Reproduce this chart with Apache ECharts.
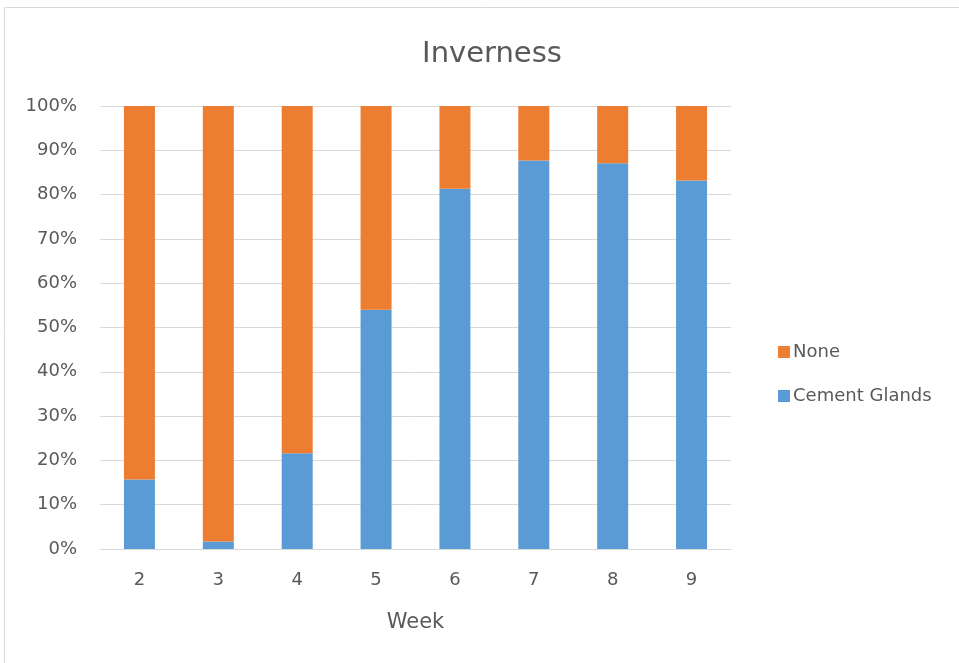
<!DOCTYPE html>
<html>
<head>
<meta charset="utf-8">
<script src="https://cdn.jsdelivr.net/npm/echarts@6/dist/echarts.min.js"></script>
<style>
  html, body { margin: 0; padding: 0; background: #fff; }
  #chart { width: 959px; height: 663px; }
</style>
</head>
<body>
<div id="chart"></div>
<script>
// Weekly share of larvae with cement glands (percent)
const weeks = ['2', '3', '4', '5', '6', '7', '8', '9'];
const cementGlands = [15.7, 1.7, 21.6, 54.0, 81.3, 87.7, 87.1, 83.2];
const none = [84.3, 98.3, 78.4, 46.0, 18.7, 12.3, 12.9, 16.8];
const yTicks = [0, 10, 20, 30, 40, 50, 60, 70, 80, 90, 100];

const FONT = '"DejaVu Sans", "Noto Sans", sans-serif';
const TEXT = '#595959';
const GRID = '#d9d9d9';

const chart = echarts.init(document.getElementById('chart'), null, { renderer: 'canvas' });
chart.setOption({
  animation: false,
  backgroundColor: '#fff',
  graphic: [{
    type: 'rect',
    shape: { x: 4.5, y: 7.5, width: 970, height: 670 },
    style: { fill: 'none', stroke: '#d9d9d9', lineWidth: 1 },
    silent: true
  }],
  title: {
    text: 'Inverness',
    left: 487,
    textAlign: 'center',
    top: 35,
    textStyle: { fontFamily: FONT, fontSize: 29, fontWeight: 'normal', color: TEXT }
  },
  legend: {
    orient: 'vertical',
    left: 773,
    top: 338,
    itemWidth: 12,
    itemHeight: 12,
    itemGap: 26,
    icon: 'rect',
    data: ['None', 'Cement Glands'],
    textStyle: { fontFamily: FONT, fontSize: 18, color: TEXT, padding: [0, 0, 0, -2] }
  },
  grid: { left: 100, right: 228, top: 106, bottom: 114, containLabel: false },
  xAxis: {
    type: 'category',
    data: weeks,
    name: 'Week',
    nameLocation: 'middle',
    nameGap: 63,
    nameTextStyle: { fontFamily: FONT, fontSize: 21, color: TEXT },
    axisLine: { lineStyle: { color: GRID, width: 1 } },
    axisTick: { show: false },
    axisLabel: { fontFamily: FONT, fontSize: 18, color: TEXT, margin: 22 }
  },
  yAxis: {
    type: 'value',
    min: yTicks[0],
    max: yTicks[yTicks.length - 1],
    interval: yTicks[1] - yTicks[0],
    axisLine: { show: false },
    axisTick: { show: false },
    splitLine: { lineStyle: { color: GRID, width: 1 } },
    axisLabel: { fontFamily: FONT, fontSize: 18, color: TEXT, margin: 23, formatter: v => v + '%' }
  },
  series: [
    {
      name: 'Cement Glands',
      type: 'bar',
      stack: 'total',
      data: cementGlands,
      barWidth: 31,
      itemStyle: { color: '#5b9bd5' }
    },
    {
      name: 'None',
      type: 'bar',
      stack: 'total',
      data: none,
      barWidth: 31,
      itemStyle: { color: '#ed7d31' }
    }
  ]
});
</script>
</body>
</html>
